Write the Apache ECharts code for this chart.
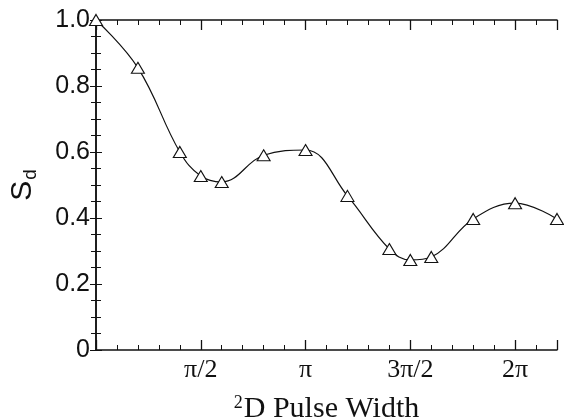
<!DOCTYPE html>
<html><head><meta charset="utf-8">
<script src="https://cdn.jsdelivr.net/npm/echarts@6/dist/echarts.min.js"></script>
<style>html,body{margin:0;padding:0;background:#fff}#c{width:564px;height:418px}</style>
</head><body><div id="c"></div>
<script>
// x in units of pi/10
const xVals = [0, 2, 4, 5, 6, 8, 10, 12, 14, 15, 16, 18, 20, 22];
const sdVals = [1.0, 0.855, 0.60, 0.527, 0.509, 0.59, 0.606, 0.467, 0.306, 0.273, 0.282, 0.397, 0.445, 0.397];
const xTickPos = [5, 10, 15, 20];
const xTickLabels = ['π/2', 'π', '3π/2', '2π'];
const yTickLabels = ['0', '0.2', '0.4', '0.6', '0.8', '1.0'];

const chart = echarts.init(document.getElementById('c'), null, {renderer: 'canvas'});
const ink = '#111';
const serif = '"Liberation Serif","DejaVu Serif",serif';
const sans = '"Liberation Sans",Arial,sans-serif';
function xLab(v) { const i = xTickPos.indexOf(Math.round(v)); return i >= 0 ? xTickLabels[i] : ''; }
function yLab(v) { const i = Math.round(v / 0.2); return Math.abs(v - i * 0.2) < 1e-6 ? yTickLabels[i] : ''; }
const baseX = {type: 'value', min: 0, max: 22, splitLine: {show: false}, gridIndex: 0};
const option = {
  animation: false,
  backgroundColor: '#fff',
  grid: {left: 96, right: 7, top: 20, bottom: 68, containLabel: false, outerBoundsMode: 'none'},
  xAxis: [
    Object.assign({}, baseX, {position: 'bottom', interval: 1,
      axisLine: {show: true, lineStyle: {color: ink, width: 1.5}},
      axisTick: {show: true, inside: true, length: 5, lineStyle: {color: ink}},
      axisLabel: {show: false}}),
    Object.assign({}, baseX, {position: 'bottom', interval: 5,
      axisLine: {show: false},
      axisTick: {show: true, inside: true, length: 10, lineStyle: {color: ink, width: 1.3}},
      axisLabel: {show: true, formatter: xLab, color: ink, fontFamily: serif, fontSize: 26, margin: 7},
      name: '{sup|2}{t|D Pulse Width}', nameLocation: 'middle', nameGap: 44,
      nameTextStyle: {color: ink, fontFamily: serif, rich: {
        sup: {fontSize: 18, fontFamily: serif, color: ink, verticalAlign: 'top', padding: [0, 1, 12, 0]},
        t: {fontSize: 30, fontFamily: serif, color: ink}}}}),
    Object.assign({}, baseX, {position: 'top', interval: 1,
      axisLine: {show: true, lineStyle: {color: ink, width: 1.5}},
      axisTick: {show: true, inside: true, length: 5, lineStyle: {color: ink}},
      axisLabel: {show: false}}),
    Object.assign({}, baseX, {position: 'top', interval: 5,
      axisLine: {show: false},
      axisTick: {show: true, inside: true, length: 10, lineStyle: {color: ink, width: 1.3}},
      axisLabel: {show: false}})
  ],
  yAxis: [
    {type: 'value', min: 0, max: 1, interval: 0.2, position: 'left', splitLine: {show: false},
      axisLine: {show: true, lineStyle: {color: ink, width: 1.5}},
      axisTick: {show: true, inside: true, length: 6, lineStyle: {color: ink}},
      minorTick: {show: true, splitNumber: 4, length: 5, lineStyle: {color: ink}},
      axisLabel: {formatter: yLab, color: ink, fontFamily: sans, fontSize: 25, margin: 6},
      name: '{s|S}{d|d}', nameLocation: 'middle', nameRotate: 90, nameGap: 56,
      nameTextStyle: {color: ink, rich: {
        s: {fontSize: 30, fontFamily: sans, color: ink},
        d: {fontSize: 19, fontFamily: sans, color: ink, padding: [16, 0, 0, 1]}}}},
    {type: 'value', min: 0, max: 1, interval: 0.2, position: 'right', splitLine: {show: false},
      axisLine: {show: true, lineStyle: {color: ink, width: 1.5}},
      axisTick: {show: true, inside: true, length: 6, lineStyle: {color: ink}},
      minorTick: {show: true, splitNumber: 4, length: 5, lineStyle: {color: ink}},
      axisLabel: {show: false}}
  ],
  series: [{
    type: 'line', xAxisIndex: 0, yAxisIndex: 0,
    data: xVals.map((x, i) => [x, sdVals[i]]),
    smooth: 0.4,
    lineStyle: {color: ink, width: 1.2},
    symbol: 'triangle', symbolSize: [13, 11], showSymbol: true,
    itemStyle: {color: '#fff', borderColor: ink, borderWidth: 1.1},
    z: 5
  }]
};
chart.setOption(option);
</script></body></html>
